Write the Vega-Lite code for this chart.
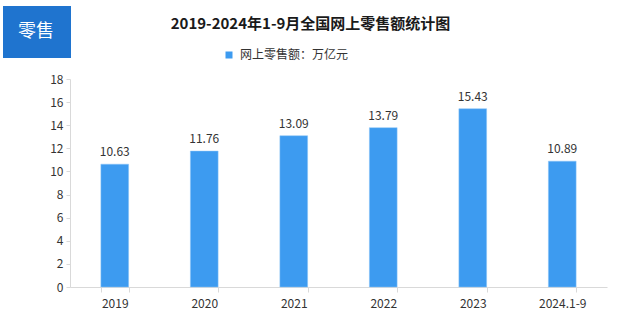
{
  "$schema": "https://vega.github.io/schema/vega-lite/v6.json",
  "width": 537,
  "height": 208,
  "autosize": {"type": "none"},
  "padding": {"left": 70, "top": 79, "right": 19, "bottom": 35},
  "background": "white",
  "title": {
    "text": "2019-2024年1-9月全国网上零售额统计图",
    "font": "Noto Sans CJK SC",
    "fontSize": 15,
    "fontWeight": "bold",
    "color": "#1a1a1a",
    "anchor": "middle",
    "dx": -28,
    "offset": -26
  },
  "data": {
    "values": [
      {"year": "2019", "value": 10.63},
      {"year": "2020", "value": 11.76},
      {"year": "2021", "value": 13.09},
      {"year": "2022", "value": 13.79},
      {"year": "2023", "value": 15.43},
      {"year": "2024.1-9", "value": 10.89}
    ]
  },
  "encoding": {
    "x": {
      "field": "year",
      "type": "nominal",
      "sort": null,
      "scale": {"paddingInner": 0.69, "paddingOuter": 0.345},
      "axis": {
        "title": null,
        "labelAngle": 0,
        "labelFont": "Noto Sans CJK SC",
        "labelFontSize": 12,
        "labelColor": "#333333",
        "labelPadding": 6,
        "domainColor": "#D9D9D9",
        "tickColor": "#D9D9D9",
        "tickBand": "extent",
        "tickSize": 5
      }
    },
    "y": {
      "field": "value",
      "type": "quantitative",
      "scale": {"domain": [0, 18]},
      "axis": {
        "title": null,
        "values": [0, 2, 4, 6, 8, 10, 12, 14, 16, 18],
        "grid": false,
        "labelFont": "Noto Sans CJK SC",
        "labelFontSize": 12,
        "labelColor": "#333333",
        "labelPadding": 3,
        "domainColor": "#D9D9D9",
        "tickColor": "#D9D9D9",
        "tickSize": 4
      }
    }
  },
  "layer": [
    {
      "mark": {"type": "bar", "stroke": "#8CC4F7", "strokeWidth": 0.5},
      "encoding": {
        "color": {
          "datum": "网上零售额：万亿元",
          "scale": {"range": ["#3D9BF0"]},
          "legend": {
            "title": null,
            "orient": "none",
            "legendX": 153,
            "legendY": -30,
            "symbolType": "square",
            "symbolSize": 49,
            "symbolStrokeWidth": 0,
            "labelFont": "Noto Sans CJK SC",
            "labelFontSize": 12,
            "labelColor": "#333333",
            "labelOffset": 5
          }
        },
        "opacity": {
          "datum": "零售",
          "scale": {"range": [1]},
          "legend": {
            "title": null,
            "orient": "none",
            "legendX": -67,
            "legendY": -73,
            "fillColor": "#1F74CF",
            "padding": 17,
            "symbolType": "circle",
            "symbolSize": 0,
            "symbolStrokeWidth": 0,
            "symbolOpacity": 0,
            "labelOffset": -20,
            "labelFont": "Noto Sans CJK SC",
            "labelFontSize": 18,
            "labelColor": "white"
          }
        }
      }
    },
    {
      "mark": {"type": "text", "dy": -12, "font": "Noto Sans CJK SC", "fontSize": 12, "color": "#333333"},
      "encoding": {
        "text": {"field": "value", "type": "quantitative", "format": ".2f"}
      }
    }
  ],
  "config": {"view": {"stroke": null}}
}
